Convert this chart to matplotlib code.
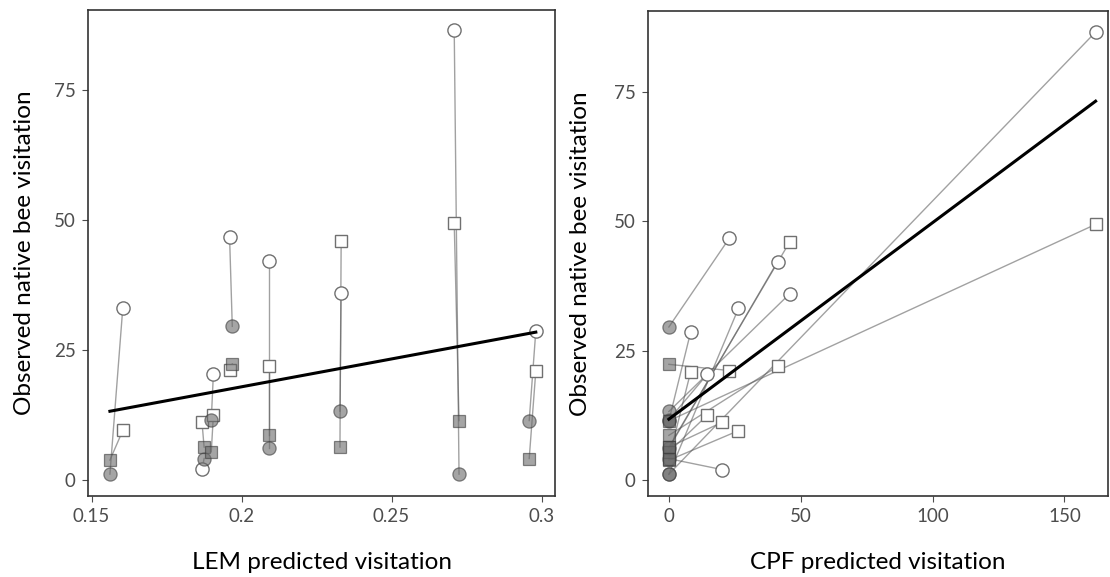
import matplotlib
matplotlib.use("Agg")
import matplotlib.pyplot as plt
import numpy as np

plt.rcParams['font.family'] = ['Lato', 'DejaVu Sans']

# one entry per site; "first" = filled markers, "second" = open markers
lem_first = [0.1561, 0.1875, 0.1899, 0.1969, 0.2091, 0.2328, 0.2725, 0.2959]
lem_second = [0.1604, 0.1868, 0.1906, 0.1960, 0.2091, 0.2332, 0.2709, 0.2981]
cpf_first = [0, 0, 0, 0, 0, 0, 0, 0]
cpf_second = [26.4, 20.1, 14.6, 22.9, 41.2, 45.8, 161.8, 8.3]

circle_first = [1.2, 4.2, 11.7, 29.6, 6.2, 13.3, 1.2, 11.5]
square_first = [3.9, 6.4, 5.5, 22.4, 8.7, 6.4, 11.5, 4.2]
circle_second = [33.2, 2.1, 20.5, 46.7, 42.2, 36.0, 86.5, 28.7]
square_second = [9.6, 11.2, 12.6, 21.2, 22.0, 46.0, 49.4, 21.0]

yticks = [0, 25, 50, 75]
lem_ticks = [0.15, 0.2, 0.25, 0.3]
lem_ticklabels = ['0.15', '0.2', '0.25', '0.3']
cpf_ticks = [0, 50, 100, 150]


def panel(ax, x1, x2, xlabel, ypad):
    # connecting lines between the two visits of each site
    for pair in [(circle_first, circle_second), (square_first, square_second)]:
        for i in range(len(x1)):
            ax.plot([x1[i], x2[i]], [pair[0][i], pair[1][i]],
                    color='#555555', alpha=0.55, lw=1.0, zorder=1)

    # open markers
    ax.plot(x2, circle_second, 'o', ms=9.5, mfc='white', mec='#707070', mew=1.0,
            ls='none', zorder=3)
    ax.plot(x2, square_second, 's', ms=8, mfc='white', mec='#707070', mew=1.0,
            ls='none', zorder=3)
    # filled markers
    ax.plot(x1, circle_first, 'o', ms=9.5, mfc='#6a6a6a', mec='#3a3a3a', mew=0.9,
            alpha=0.6, ls='none', zorder=3)
    ax.plot(x1, square_first, 's', ms=8, mfc='#6a6a6a', mec='#3a3a3a', mew=0.9,
            alpha=0.6, ls='none', zorder=3)

    # linear fit over all points
    xs = np.array(list(x1) * 2 + list(x2) * 2, dtype=float)
    ys = np.array(circle_first + square_first + circle_second + square_second)
    slope, icpt = np.polyfit(xs, ys, 1)
    xx = np.array([xs.min(), xs.max()])
    ax.plot(xx, icpt + slope * xx, color='black', lw=2.2, zorder=4)

    ax.set_yticks(yticks)
    ax.set_ylim(-3.0, 90.5)
    ax.tick_params(colors='#4d4d4d', labelsize=13.5, length=4, width=0.8, pad=5)
    for s in ax.spines.values():
        s.set_color('#333333')
        s.set_linewidth(1.2)
    ax.set_xlabel(xlabel, fontsize=17.5, labelpad=19)
    ax.set_ylabel('Observed native bee visitation', fontsize=17.5, labelpad=ypad)


fig = plt.figure(figsize=(11.1, 5.77), dpi=100)
ax1 = fig.add_axes([0.0793, 0.1404, 0.4207, 0.8431])
ax2 = fig.add_axes([0.5838, 0.1404, 0.4144, 0.8400])

panel(ax1, lem_first, lem_second, 'LEM predicted visitation', 13.5)
ax1.set_xticks(lem_ticks)
ax1.set_xticklabels(lem_ticklabels)
ax1.set_xlim(0.1488, 0.3045)

panel(ax2, cpf_first, cpf_second, 'CPF predicted visitation', 16)
ax2.set_xticks(cpf_ticks)
ax2.set_xlim(-7.9, 166.5)

fig.savefig('out.png', dpi=100)
